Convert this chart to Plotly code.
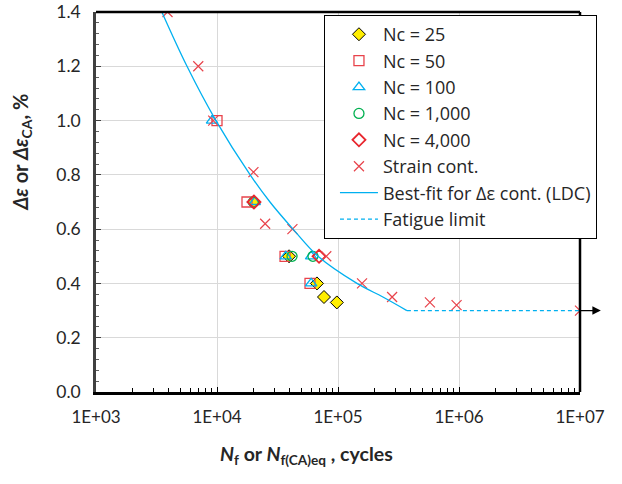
import plotly.graph_objects as go

# Test results: number of cycles (N) and strain range (%)
nc25_n = [20000, 39400, 67000, 76600, 97800]
nc25_e = [0.70, 0.50, 0.40, 0.35, 0.33]

nc50_n = [10000, 17700, 36500, 58700]
nc50_e = [1.00, 0.70, 0.50, 0.40]

nc100_n = [9100, 20500, 37000, 60000, 60000]
nc100_e = [1.00, 0.70, 0.50, 0.50, 0.40]

nc1000_n = [20000, 41700, 62100]
nc1000_e = [0.70, 0.50, 0.50]

nc4000_n = [20200, 69700]
nc4000_e = [0.70, 0.50]

strain_n = [3900, 7000, 9300, 20000, 25000, 42000, 80000, 158000, 280000, 575000, 955000, 10000000]
strain_e = [1.40, 1.20, 1.00, 0.81, 0.62, 0.60, 0.50, 0.40, 0.35, 0.33, 0.32, 0.30]

# Best-fit life curve (LDC) and fatigue limit
fit_n = [3500, 5650, 9800, 18800, 27400, 42500, 68400, 143500, 235000, 371000]
fit_e = [1.40, 1.20, 1.00, 0.80, 0.70, 0.60, 0.50, 0.40, 0.35, 0.30]

limit_n = [371000, 10000000]
limit_e = [0.30, 0.30]

x_tickvals = [1e3, 1e4, 1e5, 1e6, 1e7]
x_ticktext = ["1E+03", "1E+04", "1E+05", "1E+06", "1E+07"]

RED = "#E8434B"
BLUE = "#00B0F0"
GREEN = "#00B050"
FONT = "Lato"
TXT = "#262626"

fig = go.Figure()

fig.add_trace(go.Scatter(x=nc25_n, y=nc25_e, mode="markers", name="Nc = 25",
                         marker=dict(symbol="diamond", size=10, color="#FFEE00",
                                     line=dict(color="black", width=1))))
fig.add_trace(go.Scatter(x=nc50_n, y=nc50_e, mode="markers", name="Nc = 50",
                         marker=dict(symbol="square-open", size=10, color=RED,
                                     line=dict(width=1.3))))
fig.add_trace(go.Scatter(x=nc100_n, y=nc100_e, mode="markers", name="Nc = 100",
                         marker=dict(symbol="triangle-up-open", size=10, color=BLUE,
                                     line=dict(width=1.3))))
fig.add_trace(go.Scatter(x=nc1000_n, y=nc1000_e, mode="markers", name="Nc = 1,000",
                         marker=dict(symbol="circle-open", size=10, color=GREEN,
                                     line=dict(width=1.3))))
fig.add_trace(go.Scatter(x=nc4000_n, y=nc4000_e, mode="markers", name="Nc = 4,000",
                         marker=dict(symbol="diamond-open", size=10, color="#E8262E",
                                     line=dict(width=1.8))))
fig.add_trace(go.Scatter(x=strain_n, y=strain_e, mode="markers", name="Strain cont.",
                         marker=dict(symbol="x-thin-open", size=10, color=RED,
                                     line=dict(width=1.2))))
fig.add_trace(go.Scatter(x=fit_n, y=fit_e, mode="lines", name="Best-fit for Δε cont. (LDC)",
                         line=dict(color=BLUE, width=1.3, shape="spline")))
fig.add_trace(go.Scatter(x=limit_n, y=limit_e, mode="lines", name="Fatigue limit",
                         line=dict(color=BLUE, width=1.3, dash="4px,3px")))

fig.update_layout(
    template="none",
    width=622, height=484,
    margin=dict(l=96, r=42, t=12, b=92, autoexpand=False),
    paper_bgcolor="white", plot_bgcolor="white",
    font=dict(family=FONT, size=17, color=TXT),
    showlegend=True,
    legend=dict(x=0.471, y=0.992, xanchor="left", yanchor="top",
                bgcolor="white", bordercolor="black", borderwidth=1,
                font=dict(family="Open Sans", size=18, color=TXT), indentation=10,
                tracegroupgap=0, itemwidth=38),
)

fig.update_xaxes(
    type="log", range=[3, 7], automargin=False,
    tickvals=x_tickvals, ticktext=x_ticktext,
    showgrid=True, gridcolor="#D9D9D9", gridwidth=1,
    showline=True, linecolor="black", linewidth=2.5,
    ticks="inside", ticklen=5, tickcolor="black",
    minor=dict(ticks="inside", ticklen=4, tickcolor="black", dtick="D1", showgrid=False),
    zeroline=False, tickfont=dict(size=17), ticklabelstandoff=8,
)
fig.update_yaxes(
    range=[0, 1.4], dtick=0.2, tickformat=".1f", automargin=False,
    showgrid=True, gridcolor="#D9D9D9", gridwidth=1,
    showline=True, linecolor="#404040", linewidth=2.5,
    ticks="inside", ticklen=5, tickcolor="#404040",
    minor=dict(ticks="inside", ticklen=3, tickcolor="#606060", dtick=0.04, showgrid=False),
    zeroline=False, tickfont=dict(size=17.5), ticklabelstandoff=9,
)

# Top and right frame of the plot area
fig.add_shape(type="line", xref="paper", yref="paper", x0=0, x1=1, y0=1, y1=1,
              line=dict(color="black", width=2.5))
fig.add_shape(type="line", xref="paper", yref="paper", x0=1, x1=1, y0=0, y1=1,
              line=dict(color="black", width=2.5))

# Run-out arrow at the fatigue limit
fig.add_annotation(xref="paper", yref="y", x=1.043, y=limit_e[-1], ax=-22, ay=0,
                   text="", showarrow=True, arrowhead=2, arrowsize=1.3,
                   arrowwidth=1.3, arrowcolor="black")

# Axis titles
fig.add_annotation(xref="paper", yref="paper", x=0.434, y=-0.166,
                   xanchor="center", yanchor="middle",
                   text="<b><i>N</i><sub>f</sub> or <i>N</i><sub>f(CA)eq</sub> , cycles</b>",
                   showarrow=False, font=dict(size=19.5, color=TXT))
fig.add_annotation(xref="paper", yref="paper", x=-0.153, y=0.632, textangle=-90,
                   xanchor="center", yanchor="middle",
                   text="<b><i>Δε</i> or <i>Δε</i><sub>CA</sub>, %</b>",
                   showarrow=False, font=dict(size=20, color=TXT))

fig.write_html("out.html")
